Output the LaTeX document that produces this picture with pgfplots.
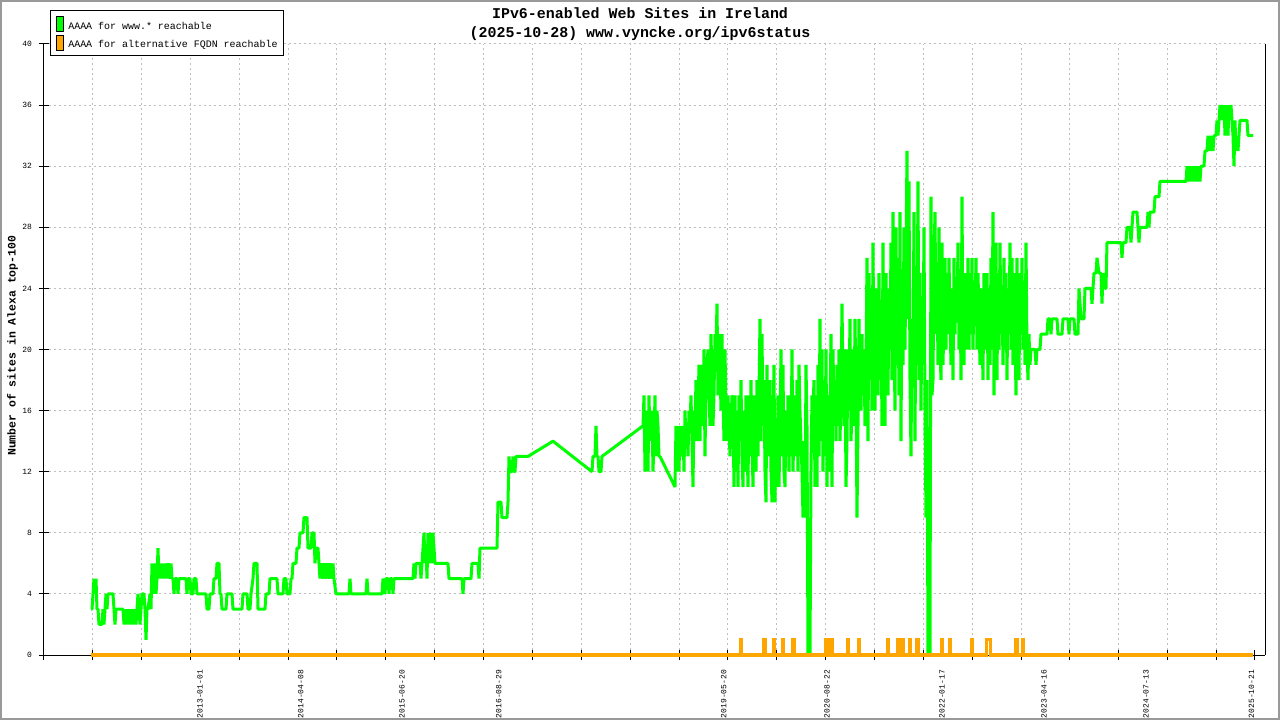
\documentclass[border=0pt]{standalone}
\usepackage{fontspec}
\setmainfont{Liberation Mono}
\usepackage{pgfplots}
\pgfplotsset{compat=1.18}

\definecolor{wwwgreen}{RGB}{0,255,0}
\definecolor{fqdnorange}{RGB}{255,165,0}
\definecolor{gridgray}{RGB}{190,190,190}
\definecolor{framegray}{RGB}{153,153,153}

\begin{document}
\begin{tikzpicture}
\fill[white] (0,0) rectangle (1280bp,720bp);
\draw[framegray, line width=4bp] (0,0) rectangle (1280bp,720bp);

\begin{axis}[
    at={(43.7bp,65bp)}, anchor=south west,
    scale only axis, width=1221.5bp, height=611bp,
    xmin=43.7, xmax=1265.2, ymin=0, ymax=40,
    clip=false,
    axis x line*=bottom, axis y line*=left,
    axis line style={-, black, line width=1bp},
    tick align=center,
    major tick length=10bp, minor tick length=10bp,
    tick style={black, line width=1bp},
    /pgf/number format/assume math mode=true,
    % grid ticks (no labels)
    xtick={43.70,92.57,141.44,190.31,239.18,288.05,336.92,385.79,434.66,483.53,
           532.40,581.27,630.14,679.01,727.88,776.75,825.62,874.49,923.36,972.23,
           1021.10,1069.97,1118.84,1167.71,1216.58},
    xticklabel={\relax},
    minor xtick={1254.3},
    % date labels
    extra x ticks={200,300.7,402,498.8,723.7,827,942,1044,1146,1251.4},
    extra x tick labels={2013-01-01,2014-04-08,2015-06-20,2016-08-29,2019-05-20,
                         2020-08-22,2022-01-17,2023-04-16,2024-07-13,2025-10-21},
    extra x tick style={grid=none, tick style={draw=none}},
    xticklabel style={rotate=90, anchor=east, inner sep=0pt, font=\fontsize{8}{9}\selectfont},
    xticklabel shift=10bp,
    ytick={0,4,...,40},
    yticklabel style={anchor=east, inner sep=0pt, font=\fontsize{8}{9}\selectfont},
    yticklabel shift=6.5bp,
    xmajorgrids, ymajorgrids,
    grid style={gridgray, line width=1bp, dash pattern=on 2bp off 3bp},
    title={IPv6-enabled Web Sites in Ireland\\(2025-10-28) www.vyncke.org/ipv6status},
    title style={at={(axis description cs:0.4882,1.0221)}, anchor=center, align=center,
                 yshift=0pt, inner sep=0pt, font=\bfseries\fontsize{15}{19}\selectfont},
    ylabel={Number of sites in Alexa top-100},
    ylabel style={at={(axis description cs:-0.0254,0.506)}, anchor=center, inner sep=0pt,
                  font=\bfseries\fontsize{11.5}{13}\selectfont},
    legend image code/.code={\draw[#1, draw=black, line width=0.8bp, fill] (0bp,-5bp) rectangle (6.5bp,10bp);},
    legend style={at={(axis description cs:0.00516,1.0556)}, anchor=north west,
                  draw=black, line width=1bp, fill=white, inner sep=5.5bp,
                  row sep=2.7bp, column sep=5bp, nodes={inner sep=0pt},
                  font=\fontsize{10}{12}\selectfont},
    legend cell align=left,
]

% AAAA for www.* reachable
\addplot[color=wwwgreen, line width=3bp, line join=bevel] coordinates {
(91,3)(92,3)(93,4)(94,5)(95,4)(96,5)(97,3)(98,3)(99,2)(102,2)(103,3)(104,2)(106,4)(107,3)(108,4)
(113,4)(114,3)(115,2)(116,3)(123,3)(124,2)(125,3)(126,2)(127,3)(128,2)(130,3)(131,2)(133,3)(134,2)
(135,3)(136,2)(138,4)(139,3)(140,2)(142,4)(144,4)(145,3)(146,1)(147,3)(148,3)(150,4)(151,3)(152,6)
(153,5)(154,4)(155,6)(156,4)(157,5)(158,7)(159,5)(160,6)(161,5)(162,6)(163,5)(164,6)(165,5)(166,6)
(167,5)(168,6)(170,5)(171,6)(172,5)(173,5)(174,4)(175,5)(177,5)(178,4)(179,5)
(186,5)(187,4)(188,5)(190,5)(191,4)(193,4)(194,5)(196,5)(197,4)(206,4)(207,3)(209,3)(210,4)(213,4)
(214,5)(216,5)(217,6)(219,6)(220,4)(221,4)(222,3)(226,3)(227,4)(232,4)(233,3)(242,3)(243,4)(247,4)
(248,3)(250,3)(251,4)(253,5)(254,6)(257,6)(258,3)(265,3)(266,4)(269,4)(270,5)(277,5)(278,4)(283,4)
(284,5)(286,5)(287,4)(290,4)(291,5)(292,5)(293,6)(296,6)(297,7)(299,7)(300,8)(303,8)(304,9)(307,9)
(308,7)(311,7)(312,8)(314,8)(315,6)(316,7)(318,7)(319,6)(320,5)(321,6)(323,5)(324,6)(326,5)(327,6)
(329,5)(330,6)(332,5)(333,6)(334,5)(336,4)(349,4)(350,5)(351,4)(366,4)(367,5)(368,4)(382,4)(383,5)
(385,4)(386,5)(388,5)(389,4)(390,5)(392,5)(393,4)(394,5)(413,5)(414,6)(415,5)(416,6)(420,6)(421,5)
(422,6)(423,7)(424,8)(425,6)(426,7)(427,5)(428,8)(429,6)(430,7)(431,8)(432,6)(433,8)(434,7)(435,6)
(448,6)(449,5)(462,5)(463,4)(464,5)(471,5)(472,6)(478,6)(479,5)(480,7)(497,7)(498,10)
(501,10)(502,9)(507,9)(508,10)(509,13)(510,12)(512,12)(513,13)(514,12)(515,12)(516,13)(528,13)
(553,14)(592,12)(593,13)(595,13)(596,15)(597,13)(598,13)(599,12)(601,12)(602,13)(643,15)
(644,17)(645,12)(646,15)(647,16)(648,12)(649,17)(650,14)(651,15)(652,16)(653,12)(654,14)(655,17)
(656,13)(657,16)(658,15)(659,13)(660,13)(675,11)
(676,15)(677,12)(678,15)(679,12)(680,15)(681,14)(682,13)(683,15)(684,12)(685,16)(686,14)(687,15)
(688,13)(689,16)(690,15)(691,17)(692,14)(693,11)(694,16)(695,15)(696,18)(697,14)(698,16)(699,19)
(700,14)(701,18)(702,19)(703,15)(704,20)(705,13)(706,18)(707,19)(708,20)(709,17)(710,15)(711,21)
(712,18)(713,15)(714,17)(715,21)(716,20)(717,23)(718,17)(719,21)(720,19)(721,16)(722,21)(723,17)
(724,14)(725,20)(726,16)(727,14)(728,17)(729,15)(730,13)(731,15)(732,17)(733,16)(734,11)(735,17)
(736,12)(737,16)(738,11)(739,17)(740,14)(741,18)(742,13)(743,11)(744,16)(745,12)(746,17)(747,14)
(748,11)(749,17)(750,13)(751,18)(752,14)(753,11)(754,17)(755,15)(756,12)(757,18)(758,13)(759,17)
(760,22)(761,14)(762,21)(763,15)(764,18)(765,12)(766,10)(767,19)(768,13)(769,16)(770,18)(771,12)
(772,10)(773,15)(774,19)(775,10)(776,14)(777,11)(778,17)(779,11)(780,15)(781,20)(782,13)(783,19)
(784,12)(785,11)(786,16)(787,13)(788,17)(789,12)(790,17)(791,13)(792,20)(793,12)(794,15)(795,17)
(796,13)(797,18)(798,12)(799,19)(800,16)(801,14)(802,12)(803,9)(804,14)(805,9)(806,19)(807,15)
(808,0)(810,0)(811,12)(812,17)(813,16)(814,18)(815,11)(816,17)(817,11)(818,19)(819,13)(820,22)
(821,14)(822,20)(823,12)(824,18)(825,13)(826,20)(827,11)(828,17)(829,12)(830,16)(831,21)(832,11)
(833,20)(834,16)(835,18)(836,14)(837,19)(838,15)(839,20)(840,14)(841,17)(842,23)(843,18)(844,15)
(845,20)(846,11)(847,14)(848,20)(849,17)(850,22)(851,14)(852,16)(853,20)(854,15)(855,22)(856,17)
(857,9)(858,15)(859,22)(860,18)(861,16)(862,21)(863,17)(864,20)(865,15)(866,19)(867,26)(868,14)
(869,25)(870,19)(871,24)(872,16)(873,27)(874,18)(875,16)(876,24)(877,20)(878,17)(879,25)(880,18)
(881,22)(882,15)(883,27)(884,19)(885,15)(886,25)(887,21)(888,17)(889,24)(890,20)(891,27)(892,18)
(893,29)(894,21)(895,16)(896,28)(897,20)(898,24)(899,17)(900,29)(901,14)(902,25)(903,19)(904,28)
(905,20)(906,26)(907,33)(908,22)(909,31)(910,18)(911,13)(912,22)(913,19)(914,29)(915,14)(916,24)
(917,20)(918,31)(919,18)(920,25)(921,16)(922,23)(923,19)(924,28)(925,16)(926,9)(927,18)(928,0)
(930,0)(931,30)(932,17)(933,18)(934,26)(935,29)(936,21)(937,25)(938,19)(939,28)(940,20)(941,18)
(942,27)(943,19)(944,22)(945,26)(946,20)(947,25)(948,21)(949,26)(950,22)(951,19)(952,24)(953,18)
(954,26)(955,21)(956,24)(957,22)(958,27)(959,20)(960,25)(961,18)(962,30)(963,20)(964,19)(965,25)
(966,20)(967,22)(968,26)(969,20)(970,25)(971,21)(972,26)(973,20)(974,24)(975,22)(976,26)(977,20)
(978,25)(979,22)(980,19)(981,24)(982,21)(983,18)(984,25)(985,22)(986,20)(987,25)(988,18)(989,24)
(990,19)(991,26)(992,20)(993,29)(994,17)(995,22)(996,27)(997,18)(998,25)(999,20)(1000,27)(1001,21)
(1002,24)(1003,19)(1004,26)(1005,20)(1006,25)(1007,18)(1008,24)(1009,21)(1010,27)(1011,20)(1012,26)
(1013,19)(1014,25)(1015,21)(1016,17)(1017,26)(1018,20)(1019,18)(1020,25)(1021,21)(1022,26)(1023,20)
(1024,23)(1025,19)(1026,27)(1027,20)(1028,18)(1029,21)(1030,19)(1031,20)(1035,20)(1036,19)(1037,20)
(1040,20)(1041,21)(1047,21)(1048,22)(1050,22)(1051,21)(1052,22)(1057,22)(1058,21)(1062,21)(1063,22)
(1068,22)(1069,21)(1070,22)(1074,22)(1075,21)(1078,21)(1079,24)(1080,23)(1081,22)(1084,22)(1085,24)
(1091,24)(1092,23)(1093,24)(1094,25)(1096,25)(1097,26)(1099,25)(1101,25)(1102,23)(1103,25)(1105,24)
(1106,24)(1107,27)(1121,27)(1122,26)(1123,27)(1126,27)(1127,28)(1130,28)(1131,27)(1132,28)(1133,29)
(1137,29)(1138,28)(1139,27)(1140,28)(1147,28)(1148,29)(1149,28)(1150,29)(1154,29)(1155,30)(1159,30)
(1160,31)(1186,31)(1187,32)(1188,31)(1189,32)(1190,31)(1191,32)(1192,31)(1193,32)(1194,31)(1195,32)
(1196,31)(1197,32)(1198,31)(1199,32)(1200,31)(1201,32)(1204,32)(1205,33)(1207,33)(1208,34)(1209,33)
(1210,34)(1211,33)(1212,34)(1213,33)(1214,34)(1216,34)(1217,35)(1218,34)(1219,35)(1220,36)(1221,35)
(1222,36)(1223,35)(1224,36)(1225,34)(1226,36)(1227,35)(1228,34)(1229,36)(1230,35)(1231,36)(1232,35)
(1233,34)(1234,32)(1235,35)(1236,33)(1237,34)(1238,33)(1239,34)(1240,35)(1247,35)(1248,34)(1253,34)
};
\addlegendentry{AAAA for www.* reachable}

% AAAA for alternative FQDN reachable
\addplot[color=fqdnorange, line width=3bp] coordinates {
(91,0)(740,0)(740,1)(741.5,1)(741.5,0)(763,0)(763,1)(765.5,1)(765.5,0)(773,0)(773,1)(774.5,1)(774.5,0)
(782,0)(782,1)(783.5,1)(783.5,0)(792,0)(792,1)(794.5,1)(794.5,0)(825,0)(825,1)(827.5,1)(827.5,0)
(830,0)(830,1)(832.5,1)(832.5,0)(847,0)(847,1)(848.5,1)(848.5,0)(858,0)(858,1)(859.5,1)(859.5,0)
(887,0)(887,1)(888.5,1)(888.5,0)(897,0)(897,1)(899.5,1)(899.5,0)(902,0)(902,1)(903.5,1)(903.5,0)
(909,0)(909,1)(910.5,1)(910.5,0)(916,0)(916,1)(918.5,1)(918.5,0)(941,0)(941,1)(942.5,1)(942.5,0)
(949,0)(949,1)(950.5,1)(950.5,0)(971,0)(971,1)(972.5,1)(972.5,0)(986,0)(986,1)(990,1)(990,0)
(1015,0)(1015,1)(1017.5,1)(1017.5,0)(1022,0)(1022,1)(1023.5,1)(1023.5,0)(1253,0)
};
\addlegendentry{AAAA for alternative FQDN reachable}

\draw[black, line width=1bp] (rel axis cs:1,0) -- (rel axis cs:1,1);
\end{axis}

\pgfresetboundingbox
\path[use as bounding box] (0,0) rectangle (1280bp,720bp);
\end{tikzpicture}
\end{document}
